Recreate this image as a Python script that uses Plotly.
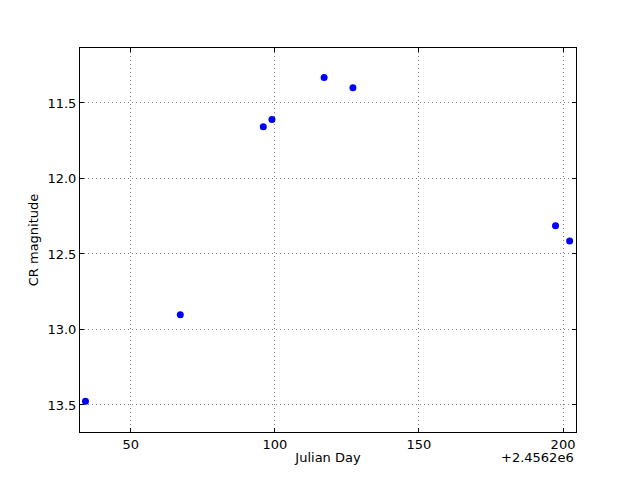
import plotly.graph_objects as go

# Julian Day values (full) and CR magnitudes
jd = [2456234.3, 2456267.2, 2456296.0, 2456299.0, 2456317.1, 2456327.1, 2456397.4, 2456402.3]
mag = [13.476, 12.902, 11.657, 11.609, 11.332, 11.400, 12.313, 12.414]
offset = 2456200
x_ticks = [50, 100, 150, 200]
y_ticks = [11.5, 12.0, 12.5, 13.0, 13.5]

xs = [v - offset for v in jd]

font = dict(family="DejaVu Sans", size=13, color="black")

fig = go.Figure()
fig.add_trace(go.Scatter(
    x=xs, y=mag, mode="markers",
    marker=dict(color="#0000ff", size=7, line=dict(width=0)),
    showlegend=False,
))

grid = dict(showgrid=True, gridcolor="#808080", griddash="1px,3px", gridwidth=1)

fig.update_layout(
    width=640, height=480,
    margin=dict(l=72, r=72, t=40, b=56),
    paper_bgcolor="white", plot_bgcolor="white",
    font=font,
    xaxis=dict(
        range=[32.4, 204.5], tickvals=x_ticks, ticktext=[str(t) for t in x_ticks],
        ticks="inside", ticklen=4, tickcolor="black", mirror="ticks",
        showline=True, linecolor="black", linewidth=1,
        zeroline=False,
        title=dict(text="Julian Day", font=font, standoff=2),
        **grid,
    ),
    yaxis=dict(
        range=[13.679, 11.136], tickvals=y_ticks, ticktext=[f"{t:.1f}" for t in y_ticks],
        ticks="inside", ticklen=4, tickcolor="black", mirror="ticks",
        showline=True, linecolor="black", linewidth=1,
        zeroline=False,
        title=dict(text="CR magnitude", font=font, standoff=5),
        **grid,
    ),
    annotations=[dict(
        text="+2.4562e6", xref="paper", yref="paper", x=1.0, y=0,
        xanchor="right", yanchor="top", yshift=-16, showarrow=False, font=font,
    )],
)

fig.write_html("out.html")
